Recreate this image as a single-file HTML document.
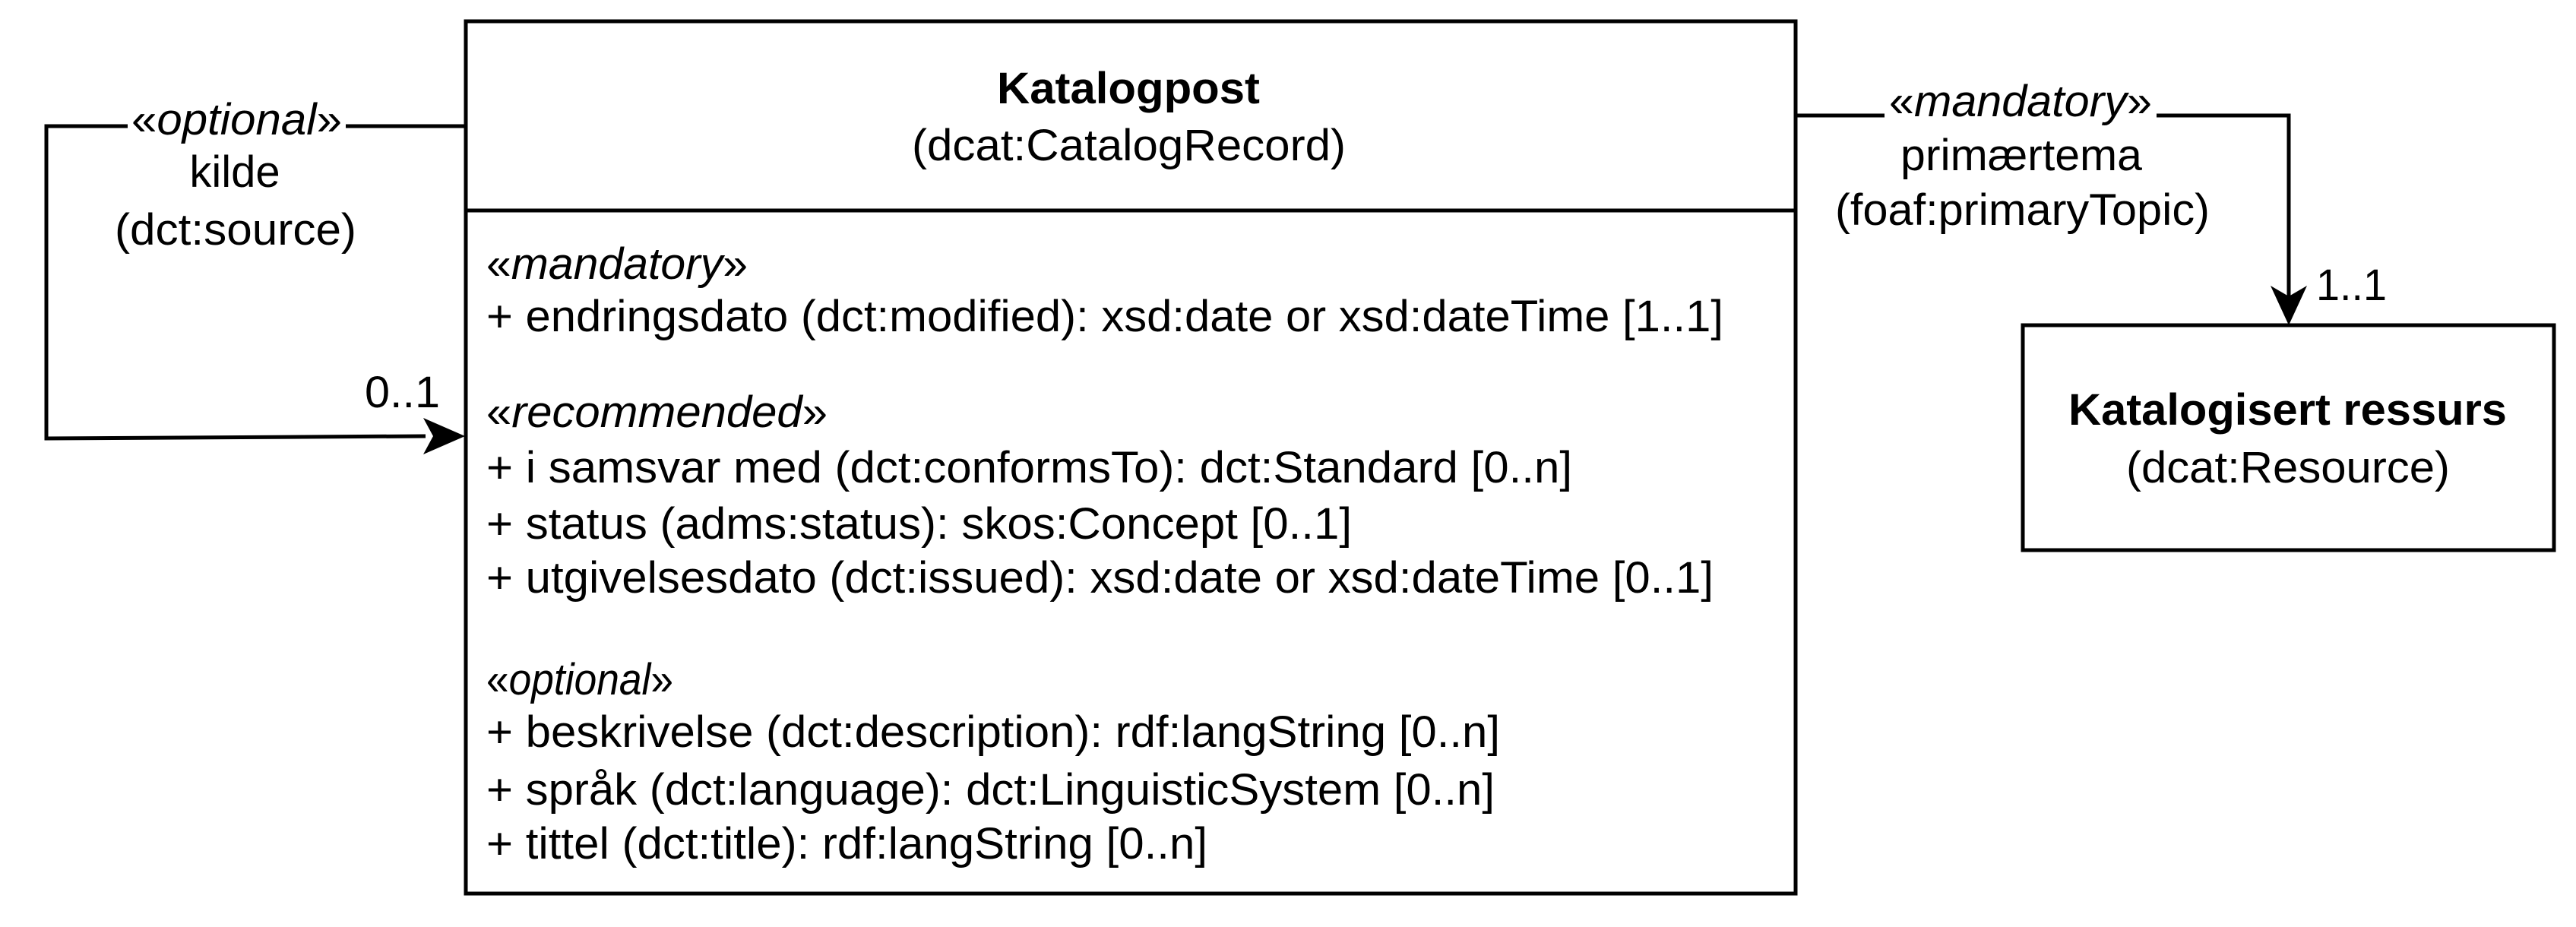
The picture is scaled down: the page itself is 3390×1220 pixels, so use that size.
<!DOCTYPE html>
<html><head><meta charset="utf-8"><style>
html,body{margin:0;padding:0;background:#fff;}
svg{display:block;}
text{font-family:"Liberation Sans",Arial,sans-serif;font-size:58px;fill:#000;}
</style></head><body>
<svg width="3390" height="1220" viewBox="0 0 3390 1220" xmlns="http://www.w3.org/2000/svg">
<g fill="none" stroke="#000" stroke-width="5">
<rect x="613" y="28" width="1750" height="1148"/>
<line x1="613" y1="277" x2="2363" y2="277"/>
<rect x="2662" y="428" width="699" height="296"/>
<polyline points="613,166 61,166 61,577 560,574"/>
<polyline points="2363,152 3012,152 3012,395"/>
</g>
<polygon points="612,574 557,550 570,574 557,598" fill="#000"/>
<polygon points="3012,428 2988,376 3012,390 3036,376" fill="#000"/>
<rect x="168" y="125" width="287" height="60" fill="#fff"/>
<rect x="2480" y="118" width="358" height="60" fill="#fff"/>

<text x="173" y="177" textLength="277" lengthAdjust="spacingAndGlyphs">«<tspan font-style="italic">optional</tspan>»</text>
<text x="309" y="246" text-anchor="middle">kilde</text>
<text x="151" y="322" textLength="318" lengthAdjust="spacingAndGlyphs">(dct:source)</text>
<text x="480" y="536" textLength="99" lengthAdjust="spacingAndGlyphs">0..1</text>

<text x="2486" y="153" textLength="346" lengthAdjust="spacingAndGlyphs">«<tspan font-style="italic">mandatory</tspan>»</text>
<text x="2501" y="224" textLength="318" lengthAdjust="spacingAndGlyphs">primærtema</text>
<text x="2415" y="296" textLength="493" lengthAdjust="spacingAndGlyphs">(foaf:primaryTopic)</text>
<text x="3048" y="395" textLength="93" lengthAdjust="spacingAndGlyphs">1..1</text>

<text x="1312" y="136" font-weight="bold" textLength="346" lengthAdjust="spacingAndGlyphs">Katalogpost</text>
<text x="1200" y="211" textLength="571" lengthAdjust="spacingAndGlyphs">(dcat:CatalogRecord)</text>

<text x="2722" y="559" font-weight="bold" textLength="577" lengthAdjust="spacingAndGlyphs">Katalogisert ressurs</text>
<text x="2798" y="635" textLength="426" lengthAdjust="spacingAndGlyphs">(dcat:Resource)</text>

<text x="640" y="367" textLength="344" lengthAdjust="spacingAndGlyphs">«<tspan font-style="italic">mandatory</tspan>»</text>
<text x="640" y="436" textLength="1628" lengthAdjust="spacingAndGlyphs">+ endringsdato (dct:modified): xsd:date or xsd:dateTime [1..1]</text>
<text x="640" y="562" textLength="449" lengthAdjust="spacingAndGlyphs">«<tspan font-style="italic">recommended</tspan>»</text>
<text x="640" y="635" textLength="1429" lengthAdjust="spacingAndGlyphs">+ i samsvar med (dct:conformsTo): dct:Standard [0..n]</text>
<text x="640" y="709" textLength="1139" lengthAdjust="spacingAndGlyphs">+ status (adms:status): skos:Concept [0..1]</text>
<text x="640" y="780" textLength="1615" lengthAdjust="spacingAndGlyphs">+ utgivelsesdato (dct:issued): xsd:date or xsd:dateTime [0..1]</text>
<text x="640" y="914" textLength="246" lengthAdjust="spacingAndGlyphs">«<tspan font-style="italic">optional</tspan>»</text>
<text x="640" y="983" textLength="1334" lengthAdjust="spacingAndGlyphs">+ beskrivelse (dct:description): rdf:langString [0..n]</text>
<text x="640" y="1059" textLength="1327" lengthAdjust="spacingAndGlyphs">+ språk (dct:language): dct:LinguisticSystem [0..n]</text>
<text x="640" y="1130" textLength="949" lengthAdjust="spacingAndGlyphs">+ tittel (dct:title): rdf:langString [0..n]</text>
</svg>
</body></html>
